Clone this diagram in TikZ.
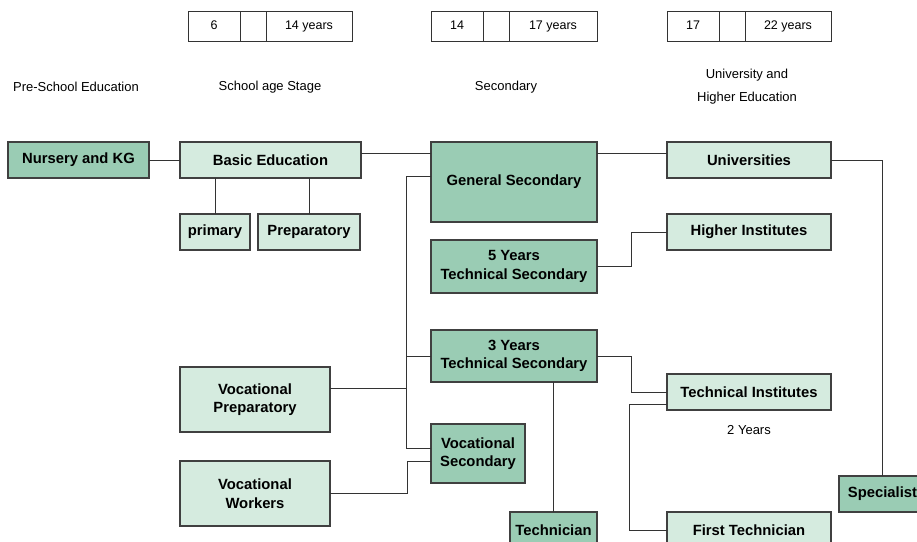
\documentclass[tikz,border=0pt]{standalone}
\usepackage{fontspec}
\setmainfont{Liberation Sans}
\usetikzlibrary{positioning}
\definecolor{darkgreen}{HTML}{9ACCB4}
\definecolor{lightgreen}{HTML}{D5EBDF}

\begin{document}
\begin{tikzpicture}[
    x=1pt, y=-1pt,
    box/.style={rectangle, draw=black!75, line width=1.3pt, font=\fontsize{14.8}{18.5}\selectfont\bfseries, align=center, inner sep=2pt, outer sep=0pt},
    dark/.style={box, fill=darkgreen},
    light/.style={box, fill=lightgreen},
    heading/.style={font=\fontsize{13}{23}\selectfont, align=center},
    agecell/.style={rectangle, draw=black!80, line width=0.8pt, minimum height=30pt, text height=9pt, text depth=2.5pt, font=\fontsize{12.5}{14}\selectfont, inner sep=0pt, outer sep=0pt},
    link/.style={draw=black!80, line width=0.9pt}
]
    \clip (0,0) rectangle (917,541);

    % age ranges
    \node[agecell, minimum width=52pt] (from6) at (214,26) {6};
    \node[agecell, minimum width=26pt, right=0pt of from6] (mid6) {};
    \node[agecell, minimum width=86pt, right=0pt of mid6] (to14) {14 years};
    \node[agecell, minimum width=52pt] (from14) at (457,26) {14};
    \node[agecell, minimum width=26pt, right=0pt of from14] (mid14) {};
    \node[agecell, minimum width=88pt, right=0pt of mid14] (to17) {17 years};
    \node[agecell, minimum width=52pt] (from17) at (693,26) {17};
    \node[agecell, minimum width=26pt, right=0pt of from17] (mid17) {};
    \node[agecell, minimum width=86pt, right=0pt of mid17] (to22) {22 years};

    % stages
    \node[heading] (preschool) at (76,87) {Pre-School Education};
    \node[heading] (schoolage) at (270,87) {School age Stage};
    \node[heading] (secondary) at (506,87) {Secondary};
    \node[heading] (university) at (747,87) {University and\\Higher Education};

    \node[dark, minimum width=141pt, minimum height=36pt] (nursery) at (78.5,160) {Nursery and KG};
    \node[light, minimum width=181pt, minimum height=36pt] (basic) at (270.5,160) {Basic Education};
    \node[light, minimum width=70pt, minimum height=36pt] (primary) at (215,232) {primary};
    \node[light, minimum width=102pt, minimum height=36pt, right=8pt of primary] (prep) {Preparatory};
    \node[light, minimum width=150pt, minimum height=65pt] (vocprep) at (255,399.5) {Vocational\\Preparatory};
    \node[light, minimum width=150pt, minimum height=65pt, below=29pt of vocprep] (vocwork) {Vocational\\Workers};

    \node[dark, minimum width=166pt, minimum height=80pt] (gensec) at (514,182) {General Secondary};
    \node[dark, minimum width=166pt, minimum height=53pt, below=18pt of gensec] (five) {5 Years\\Technical Secondary};
    \node[dark, minimum width=166pt, minimum height=52pt, below=37pt of five] (three) {3 Years\\Technical Secondary};
    \node[dark, minimum width=94pt, minimum height=59pt] (vocsec) at (478,453.5) {Vocational\\Secondary};
    \node[dark, minimum width=87pt, minimum height=36pt] (technician) at (553.5,530) {Technician};

    \node[light, minimum width=164pt, minimum height=36pt] (univ) at (749,160) {Universities};
    \node[light, minimum width=164pt, minimum height=36pt, below=36pt of univ] (higher) {Higher Institutes};
    \node[light, minimum width=164pt, minimum height=36pt] (techinst) at (749,392) {Technical Institutes};
    \node[heading] (twoyears) at (749,430) {2 Years};
    \node[light, minimum width=164pt, minimum height=36pt] (firsttech) at (749,530) {First Technician};
    \node[dark, minimum width=87pt, minimum height=36pt] (specialist) at (882.5,494) {Specialist};

    \coordinate (bus) at (406,176);

    \draw[link] (nursery) -- (basic);
    \draw[link] (primary.north) -- (primary.north |- basic.south);
    \draw[link] (prep.north) -- (prep.north |- basic.south);
    \draw[link] ([yshift=-11pt]gensec.north west) -- ([yshift=-11pt]gensec.north west -| basic.east);
    \draw[link] ([yshift=-11pt]gensec.north east) -- ([yshift=-11pt]gensec.north east -| univ.west);
    \draw[link] (univ.east) -| (specialist.north);
    \draw[link] ([yshift=-34pt]gensec.north west) -- (bus) |- ([yshift=-24pt]vocsec.north west);
    \draw[link] (three.west) -- (three.west -| bus);
    \draw[link] ([yshift=11pt]vocprep.east) -- ([yshift=11pt]vocprep.east -| bus);
    \draw[link] (vocwork.east) -- ++(77,0) |- ([yshift=-37pt]vocsec.north west);
    \draw[link] (five.east) -- ++(34,0) |- (higher.west);
    \draw[link] (three.east) -- ++(34,0) |- (techinst.west);
    \draw[link] (technician.north) -- (technician.north |- three.south);
    \draw[link] ([yshift=-12pt]techinst.west) -- ++(-38,0) |- (firsttech.west);
\end{tikzpicture}
\end{document}
